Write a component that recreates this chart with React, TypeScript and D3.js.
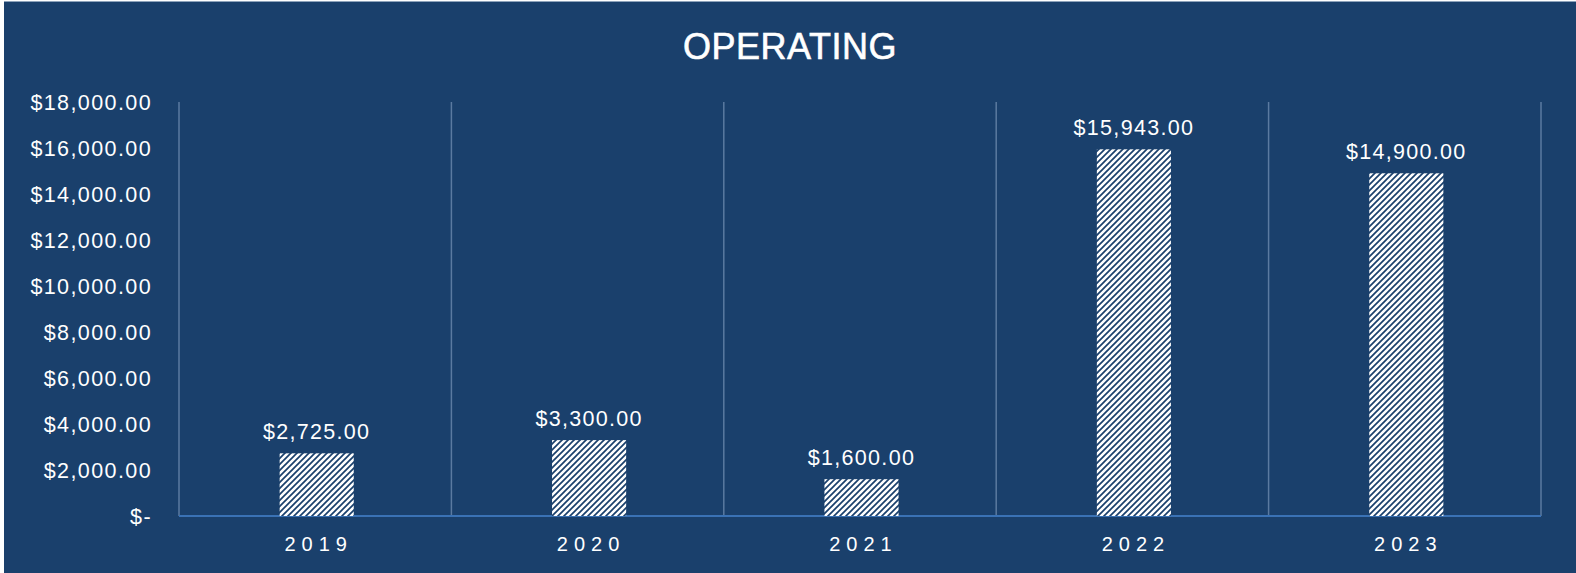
import React from "react";
import * as d3 from "d3";

const years = ["2019", "2020", "2021", "2022", "2023"];
const values = [2725, 3300, 1600, 15943, 14900];
const yTicks = [0, 2000, 4000, 6000, 8000, 10000, 12000, 14000, 16000, 18000];
const title = "OPERATING";

const W = 1576;
const H = 573;
const BG = "#1a406c";
const FONT = "'Liberation Sans', Arial, sans-serif";

const fmt = (v: number) =>
  v === 0 ? "$-" : "$" + d3.format(",.2f")(v);

export default function App() {
  const left = 179, right = 1541, top = 102, bottom = 516;
  const x = d3.scaleBand<string>().domain(years).range([left + 1.5, right + 1.5]).paddingInner(0.728).paddingOuter(0.364);
  const step = (right - left) / years.length;
  const y = d3.scaleLinear().domain([0, 18000]).range([bottom, top]);
  const bounds = d3.range(years.length + 1).map((i) => left + i * step);

  return (
    <svg width={W} height={H} style={{ position: "absolute", left: 0, top: 0, background: "#fff" }}>
      <defs>
        <pattern id="diag" patternUnits="userSpaceOnUse" width={6} height={6}>
          <rect width={6} height={6} fill="#ffffff" />
          <path d="M-1,7 L7,-1 M-4,4 L4,-4 M2,10 L10,2" stroke={BG} strokeWidth={1.7} />
        </pattern>
      </defs>
      <rect x={4} y={2} width={W - 4} height={H - 2} fill={BG} />
      <line x1={4} x2={W} y1={1.5} y2={1.5} stroke="#8ea3bb" strokeWidth={1} />
      <text x={790} y={59} textAnchor="middle" fill="#fff" stroke="#fff" strokeWidth={0.6} fontFamily={FONT} fontSize={36} letterSpacing={0.5}>
        {title}
      </text>
      {bounds.map((b, i) => (
        <line key={i} x1={b} x2={b} y1={top} y2={bottom} stroke="#5b7aa0" strokeWidth={1.5} />
      ))}
      <line x1={left} x2={right} y1={bottom} y2={bottom} stroke="#3a72b5" strokeWidth={2} />
      {yTicks.map((t) => (
        <text key={t} x={152} y={y(t)} dy="0.36em" textAnchor="end" fill="#fff" fontFamily={FONT} fontSize={21.5} letterSpacing={1.4}>
          {fmt(t)}
        </text>
      ))}
      {years.map((yr, i) => (
        <g key={yr}>
          <rect x={x(yr)} y={y(values[i])} width={x.bandwidth()} height={bottom - y(values[i])} fill="url(#diag)" />
          <text x={(x(yr) as number) + x.bandwidth() / 2} y={y(values[i]) - 14} textAnchor="middle" fill="#fff" fontFamily={FONT} fontSize={21.5} letterSpacing={1.3}>
            {fmt(values[i])}
          </text>
          <text x={(x(yr) as number) + x.bandwidth() / 2 + 2} y={551} textAnchor="middle" fill="#fff" fontFamily={FONT} fontSize={20} letterSpacing={6}>
            {yr}
          </text>
        </g>
      ))}
    </svg>
  );
}
